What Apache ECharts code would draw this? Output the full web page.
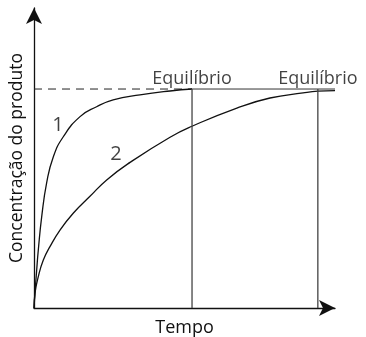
<!DOCTYPE html>
<html>
<head>
<meta charset="utf-8">
<script src="https://cdn.jsdelivr.net/npm/echarts@6/dist/echarts.min.js"></script>
<style>
  html, body { margin: 0; padding: 0; background: #fff; }
  #chart { width: 366px; height: 337px; }
</style>
</head>
<body>
<div id="chart"></div>
<script>
// tempo (arbitrário) e concentração relativa ao equilíbrio (=1)
var curva1 = [[0,0],[0.033,0.07],[0.09,0.175],[0.143,0.265],[0.256,0.417],[0.42,0.571],[0.64,0.69],
    [0.973,0.782],[1.53,0.874],[2.08,0.919],[2.63,0.95],[3.52,0.973],[4.52,0.991],[5.25,1.0]];
var curva2 = [[0,0],[0.033,0.068],[0.143,0.143],[0.31,0.219],[0.53,0.28],[0.864,0.356],[1.31,0.434],
    [1.86,0.51],[2.415,0.585],[3.19,0.665],[4.52,0.78],[5.25,0.83],[6.74,0.913],[7.84,0.959],
    [8.94,0.982],[9.43,0.99],[10,0.993]];
var tEquilibrio = [5.25, 9.43];
var nivelEquilibrio = 1;
var tMax = 10;
var rotulosCurva = [[0.8, 0.836, '1'], [2.72, 0.70, '2']];

var myChart = echarts.init(document.getElementById('chart'));
var fonte = 'Open Sans';

var series = [
    {
        type: 'line', data: [[0, nivelEquilibrio], [tEquilibrio[0], nivelEquilibrio]],
        symbol: 'none', silent: true,
        lineStyle: { color: '#222', width: 1, type: [8, 6] }
    },
    {
        type: 'line', data: [[tEquilibrio[0], nivelEquilibrio], [tMax, nivelEquilibrio]],
        symbol: 'none', silent: true,
        lineStyle: { color: '#333', width: 1 }
    },
    {
        type: 'line', data: curva1, smooth: 0.5, symbol: 'none',
        lineStyle: { color: '#111', width: 1.3 }
    },
    {
        type: 'line', data: curva2, smooth: 0.5, symbol: 'none',
        lineStyle: { color: '#111', width: 1.3 }
    },
    {
        type: 'scatter', symbolSize: 0,
        data: tEquilibrio.map(function (t) { return [t, nivelEquilibrio]; }),
        label: {
            show: true, position: 'top', distance: 1, formatter: 'Equilíbrio',
            color: '#111', fontSize: 18, fontFamily: fonte
        }
    },
    {
        type: 'scatter', symbolSize: 0,
        data: rotulosCurva.map(function (r) { return [r[0], r[1], r[2]]; }),
        label: {
            show: true, position: 'inside',
            formatter: function (p) { return p.data[2]; },
            color: '#111', fontSize: 20, fontFamily: fonte
        }
    }
];
tEquilibrio.forEach(function (t) {
    series.push({
        type: 'line', data: [[t, 0], [t, nivelEquilibrio]], symbol: 'none', silent: true,
        lineStyle: { color: '#444', width: 1.3 }
    });
});

myChart.setOption({
    animation: false,
    grid: { left: 34, right: 31, top: 8, bottom: 29, outerBoundsMode: 'none', containLabel: false },
    xAxis: {
        type: 'value', min: 0, max: tMax,
        name: 'Tempo', nameLocation: 'middle', nameGap: 11,
        nameTextStyle: { color: '#111', fontSize: 18, fontFamily: fonte },
        axisLine: { lineStyle: { color: '#111', width: 1.3 }, symbol: ['none', 'arrow'], symbolSize: [12, 16], symbolOffset: [0, 0] },
        axisTick: { show: false }, axisLabel: { show: false }, splitLine: { show: false }
    },
    yAxis: {
        type: 'value', min: 0, max: 1.37,
        name: 'Concentração do produto', nameLocation: 'middle', nameGap: 8, nameRotate: 90,
        nameTextStyle: { color: '#111', fontSize: 17.5, fontFamily: fonte },
        axisLine: { lineStyle: { color: '#111', width: 1.3 }, symbol: ['none', 'arrow'], symbolSize: [12, 16], symbolOffset: [0, 0] },
        axisTick: { show: false }, axisLabel: { show: false }, splitLine: { show: false }
    },
    series: series
});
</script>
</body>
</html>
